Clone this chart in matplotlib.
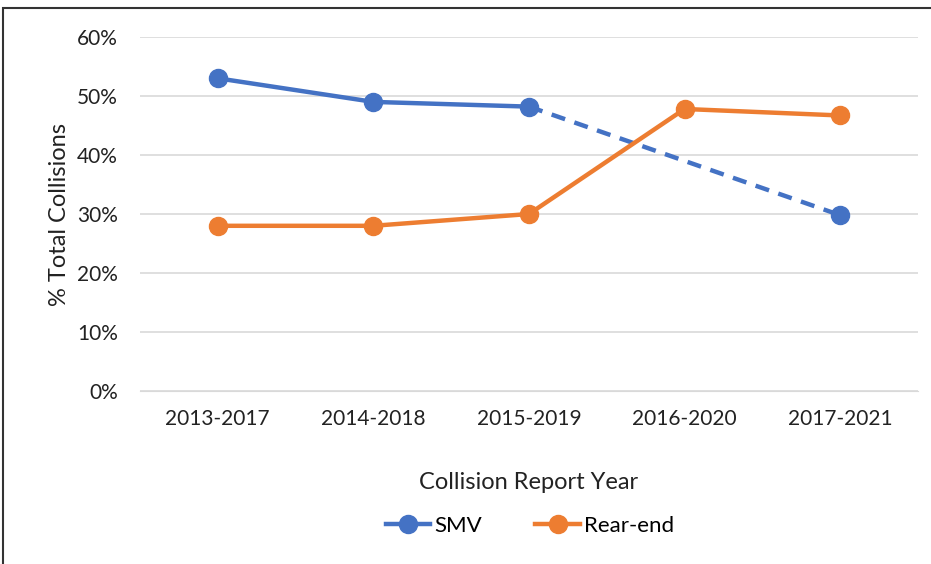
import numpy as np
import matplotlib
matplotlib.use("Agg")
import matplotlib.pyplot as plt
from matplotlib.patches import Rectangle
from matplotlib.lines import Line2D
from matplotlib.ticker import PercentFormatter

# chart data
periods = ["2013-2017", "2014-2018", "2015-2019", "2016-2020", "2017-2021"]
smv = [53.0, 49.0, 48.2, np.nan, 29.8]       # no SMV value for 2016-2020 (dashed gap)
rear_end = [28.0, 28.0, 30.0, 47.8, 46.7]

BLUE = "#4472C4"
ORANGE = "#ED7D31"

plt.rcParams["font.family"] = ["Lato", "DejaVu Sans"]

fig = plt.figure(figsize=(9.31, 5.64), dpi=100)
ax = fig.add_axes([140 / 931, 1 - 391 / 564, (918 - 140) / 931, (391 - 37) / 564])

x = np.arange(len(periods))
smv_arr = np.array(smv)
ok = ~np.isnan(smv_arr)

# solid part of SMV, then dashed bridge across the missing year
ax.plot(x[:3], smv_arr[:3], color=BLUE, lw=3.2, marker="o", ms=13, zorder=3)
xi = x[ok]
ax.plot(xi[-2:], smv_arr[ok][-2:], color=BLUE, lw=3.2, ls=(0, (3.2, 2.2)), zorder=3)
ax.plot(xi[-1:], smv_arr[ok][-1:], color=BLUE, marker="o", ms=13, ls="none", zorder=3)

ax.plot(x, rear_end, color=ORANGE, lw=3.2, marker="o", ms=13, zorder=4)

ax.set_xlim(-0.5, len(periods) - 0.5)
ax.set_ylim(0, 60)
ax.set_yticks(np.arange(0, 61, 10))
ax.yaxis.set_major_formatter(PercentFormatter(decimals=0))
ax.set_xticks(x)
ax.set_xticklabels(periods)
ax.grid(axis="y", color="#D9D9D9", lw=1.2)
ax.set_axisbelow(True)
for s in ["top", "right", "left"]:
    ax.spines[s].set_visible(False)
ax.spines["bottom"].set_color("#D9D9D9")
ax.tick_params(length=0, labelsize=15, colors="#222222", pad=13)
ax.tick_params(axis="y", pad=16)

ax.set_xlabel("Collision Report Year", fontsize=17, color="#222222", labelpad=31)
ax.set_ylabel("% Total Collisions", fontsize=17, color="#222222", labelpad=5)

handles = [
    Line2D([], [], color=BLUE, lw=3.2, marker="o", ms=13),
    Line2D([], [], color=ORANGE, lw=3.2, marker="o", ms=13),
]
fig.legend(handles, ["SMV", "Rear-end"], loc="center", bbox_to_anchor=(530 / 931, 1 - 526 / 564),
           ncol=2, frameon=False, fontsize=16, handlelength=2.0, handletextpad=0.2,
           columnspacing=2.4)

# outer chart border (cropped screenshot: only left and top edges visible)
fig.patches.append(Rectangle((3 / 931, -0.1), 1.2, 1 - 8 / 564 + 0.1, transform=fig.transFigure,
                             fill=False, ec="#333333", lw=1.5))

fig.savefig("out.png", dpi=100)
